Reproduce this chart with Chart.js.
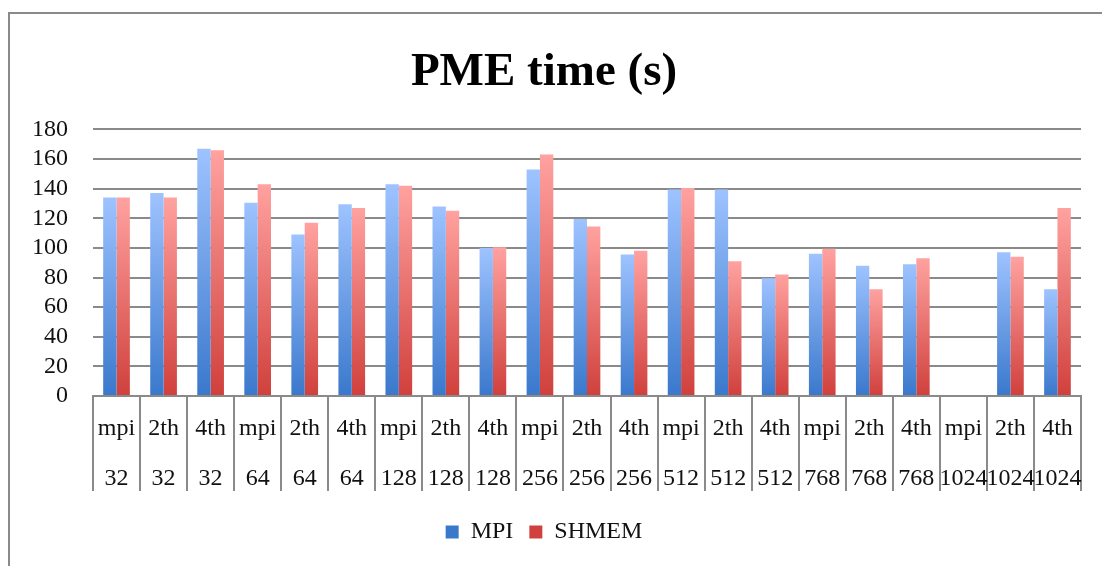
<!DOCTYPE html>
<html>
<head>
<meta charset="utf-8">
<script src="https://cdn.jsdelivr.net/npm/chart.js@4/dist/chart.umd.min.js"></script>
<style>
  body { margin: 0; background: #fff; }
  #frame { position: absolute; left: 8px; top: 12px; width: 1100px; height: 560px;
           border-left: 2px solid #8a8a8a; border-top: 2px solid #8a8a8a; }
  #myChart { position: absolute; left: 0; top: 0; }
</style>
</head>
<body>
<div id="frame"></div>
<canvas id="myChart" width="1102" height="566"></canvas>
<script>
// run type + number of cores, one bar pair per column
let categories = [
    ['mpi', '32'], ['2th', '32'], ['4th', '32'],
    ['mpi', '64'], ['2th', '64'], ['4th', '64'],
    ['mpi', '128'], ['2th', '128'], ['4th', '128'],
    ['mpi', '256'], ['2th', '256'], ['4th', '256'],
    ['mpi', '512'], ['2th', '512'], ['4th', '512'],
    ['mpi', '768'], ['2th', '768'], ['4th', '768'],
    ['mpi', '1024'], ['2th', '1024'], ['4th', '1024']
]
let mpiTimes = [134, 137, 167, 130.5, 109, 129.5, 143, 128, 100, 153, 119.5, 95.5, 139.5, 139.5, 79.5, 96, 88, 89, null, 97, 72]
let shmemTimes = [134, 134, 166, 143, 117, 127, 142, 125, 100.5, 163, 114.5, 98, 140.5, 91, 82, 99.5, 72, 93, null, 94, 127]
let yTicks = { min: 0, max: 180, step: 20 }

let serif = 'Liberation Serif'
let gridGray = '#8a8a8a'

function barFill(light, dark, mid) {
    return ctx => {
        let chart = ctx.chart
        if (!chart.chartArea || ctx.type != 'data' || ctx.raw == null) return mid
        let y = chart.scales.y
        let top = y.getPixelForValue(ctx.raw)
        let bottom = y.getPixelForValue(0)
        if (bottom - top < 1) return dark
        let g = chart.ctx.createLinearGradient(0, top, 0, bottom)
        g.addColorStop(0, light)
        g.addColorStop(1, dark)
        return g
    }
}

var myChart = new Chart('myChart', {
    type: 'bar',
    data: {
        labels: categories,
        datasets: [{
            label: 'MPI',
            data: mpiTimes,
            backgroundColor: barFill('#9ec3ff', '#3a78cc', '#5f93e6'),
            categoryPercentage: 0.567,
            barPercentage: 1
        }, {
            label: 'SHMEM',
            data: shmemTimes,
            backgroundColor: barFill('#ffa2a0', '#d0403c', '#e46462'),
            categoryPercentage: 0.567,
            barPercentage: 1
        }]
    },
    options: {
        responsive: false,
        animation: false,
        devicePixelRatio: 1,
        layout: { padding: { left: 7, right: 21, top: 0, bottom: 12 } },
        plugins: {
            title: {
                display: true,
                text: 'PME time (s)',
                color: '#000',
                font: { family: serif, size: 47, weight: 'bold' },
                padding: { top: 45, bottom: 28 }
            },
            legend: {
                position: 'bottom',
                labels: {
                    color: '#111',
                    font: { family: serif, size: 24 },
                    boxWidth: 13,
                    boxHeight: 13,
                    padding: 16
                }
            },
            tooltip: { enabled: false }
        },
        scales: {
            x: {
                grid: {
                    drawOnChartArea: false,
                    drawTicks: true,
                    tickLength: 95,
                    color: gridGray,
                    lineWidth: 2
                },
                border: { display: true, color: gridGray, width: 2 },
                ticks: {
                    color: '#111',
                    font: { family: serif, size: 24, lineHeight: 50 / 24 },
                    padding: -87,
                    maxRotation: 0,
                    autoSkip: false
                },
                afterFit: s => { s.height = 108 }
            },
            y: {
                min: yTicks.min,
                max: yTicks.max,
                grid: { color: gridGray, lineWidth: 2, drawTicks: false },
                border: { display: false },
                ticks: {
                    stepSize: yTicks.step,
                    autoSkip: false,
                    color: '#111',
                    font: { family: serif, size: 24 },
                    padding: 25
                }
            }
        }
    }
})
</script>
</body>
</html>
